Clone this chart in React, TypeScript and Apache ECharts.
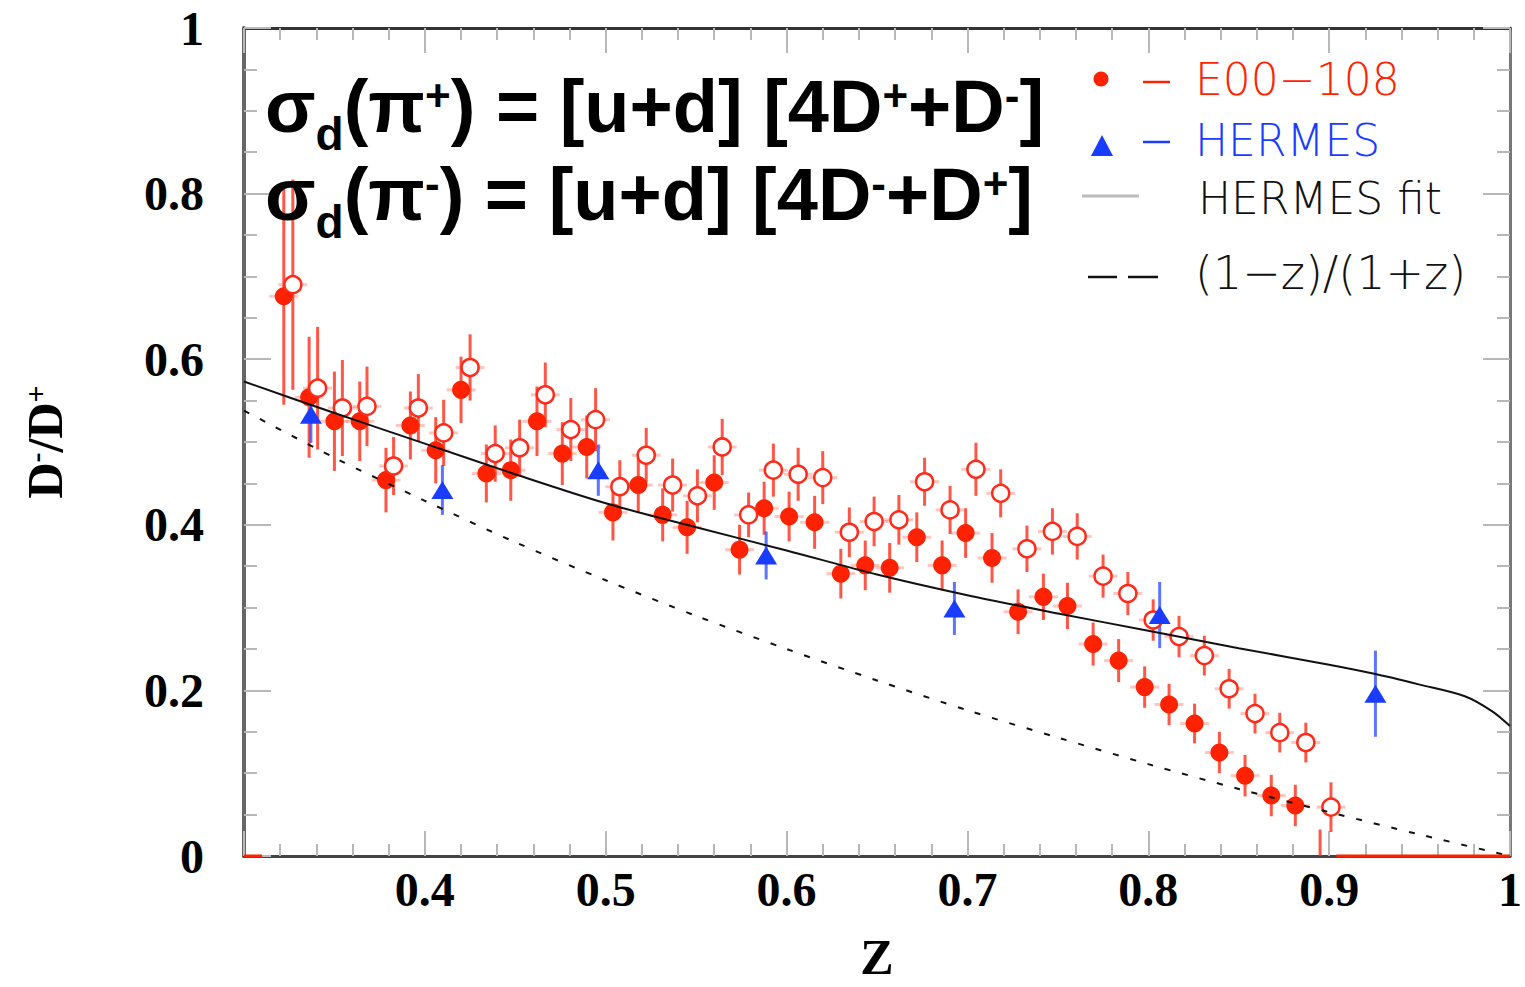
import React, { useEffect, useRef } from "react";
import * as echarts from "echarts";

// E00-108 filled circles: [z, value, error]
const e00Filled: number[][] = [
  [0.322, 0.676, 0.131], [0.336, 0.554, 0.073], [0.350, 0.525, 0.060], [0.364, 0.525, 0.048],
  [0.3785, 0.454, 0.039], [0.392, 0.520, 0.041], [0.406, 0.490, 0.040], [0.420, 0.563, 0.040],
  [0.434, 0.462, 0.035], [0.4475, 0.466, 0.037], [0.462, 0.525, 0.042], [0.476, 0.486, 0.038],
  [0.4895, 0.494, 0.038], [0.504, 0.415, 0.034], [0.518, 0.448, 0.034], [0.5315, 0.412, 0.032],
  [0.545, 0.397, 0.032], [0.560, 0.451, 0.033], [0.574, 0.370, 0.030], [0.5876, 0.420, 0.032],
  [0.6014, 0.410, 0.030], [0.6155, 0.403, 0.032], [0.630, 0.341, 0.030], [0.6435, 0.351, 0.030],
  [0.657, 0.348, 0.030], [0.672, 0.385, 0.030], [0.686, 0.351, 0.030], [0.699, 0.390, 0.030],
  [0.7136, 0.360, 0.030], [0.728, 0.295, 0.027], [0.742, 0.313, 0.028], [0.7553, 0.302, 0.028],
  [0.7695, 0.256, 0.026], [0.7836, 0.236, 0.026], [0.798, 0.204, 0.025], [0.8115, 0.183, 0.025],
  [0.8256, 0.160, 0.024], [0.8393, 0.125, 0.025], [0.8535, 0.097, 0.025], [0.868, 0.073, 0.025],
  [0.8813, 0.061, 0.025], [0.895, -0.012, 0.044],
];

// E00-108 open circles: [z, value, error]
const e00Open: number[][] = [
  [0.327, 0.690, 0.127], [0.3407, 0.565, 0.074], [0.3544, 0.541, 0.058], [0.368, 0.543, 0.048],
  [0.3827, 0.471, 0.035], [0.3964, 0.541, 0.041], [0.4104, 0.511, 0.040], [0.425, 0.590, 0.040],
  [0.4389, 0.486, 0.034], [0.4524, 0.493, 0.034], [0.4666, 0.557, 0.039], [0.4807, 0.515, 0.038],
  [0.4944, 0.527, 0.038], [0.5078, 0.446, 0.032], [0.5224, 0.484, 0.033], [0.537, 0.448, 0.032],
  [0.5507, 0.435, 0.032], [0.5644, 0.494, 0.034], [0.579, 0.412, 0.027], [0.5927, 0.466, 0.032],
  [0.6064, 0.461, 0.032], [0.620, 0.457, 0.032], [0.6347, 0.391, 0.030], [0.6484, 0.404, 0.030],
  [0.6621, 0.406, 0.030], [0.6763, 0.452, 0.029], [0.6904, 0.418, 0.029], [0.7047, 0.467, 0.032],
  [0.7184, 0.438, 0.029], [0.7329, 0.371, 0.028], [0.747, 0.392, 0.028], [0.7607, 0.386, 0.028],
  [0.775, 0.338, 0.026], [0.7887, 0.317, 0.026], [0.8027, 0.285, 0.025], [0.817, 0.265, 0.025],
  [0.831, 0.242, 0.024], [0.8447, 0.202, 0.024], [0.859, 0.172, 0.024], [0.8727, 0.149, 0.024],
  [0.8871, 0.137, 0.024], [0.901, 0.059, 0.030],
];

// HERMES triangles: [z, value, error]
const hermes: number[][] = [
  [0.337, 0.533, 0.034], [0.4097, 0.442, 0.030], [0.4959, 0.466, 0.031], [0.5887, 0.363, 0.029],
  [0.6928, 0.299, 0.032], [0.8063, 0.291, 0.040], [0.9256, 0.196, 0.052],
];

// HERMES fit curve
const hermesFit: number[][] = [
  [0.30, 0.573], [0.35, 0.535], [0.40, 0.498], [0.45, 0.461], [0.50, 0.426], [0.55, 0.397],
  [0.60, 0.369], [0.65, 0.340], [0.70, 0.315], [0.75, 0.293], [0.80, 0.272], [0.85, 0.251],
  [0.90, 0.231], [0.925, 0.220], [0.95, 0.207], [0.975, 0.193], [0.99, 0.175], [1.0, 0.157],
];

// (1-z)/(1+z) dashed curve
const ratioCurve: number[][] = [
  [0.30, 0.538], [0.35, 0.481], [0.40, 0.429], [0.45, 0.379], [0.50, 0.333], [0.55, 0.290],
  [0.60, 0.250], [0.65, 0.212], [0.70, 0.176], [0.75, 0.143], [0.80, 0.111], [0.85, 0.081],
  [0.90, 0.053], [0.95, 0.026], [1.0, 0.0],
];

// red segments lying on the zero line
const zeroSegLeft: number[][] = [[0.3, 0], [0.31, 0]];
const zeroSegRight: number[][] = [[0.904, 0], [1.0, 0]];

const xTickLabels: string[] = ["", "0.4", "0.5", "0.6", "0.7", "0.8", "0.9", "1"];
const yTickLabels: string[] = ["0", "0.2", "0.4", "0.6", "0.8", "1"];

const legendNames = ["E00\u2212108", "HERMES", "HERMES fit", "(1\u2212z)/(1+z)"];

const RED = "#ff2200";
const BLUE = "#1a3cff";

const makeErr = (stroke: string, hw: number, hstroke: string) => (params: any, api: any) => {
  const z = api.value(0);
  const v = api.value(1);
  const e = api.value(2);
  const top = api.coord([z, Math.min(v + e, 1)]);
  const bot = api.coord([z, Math.max(v - e, 0)]);
  const children: any[] = [
    { type: "line", shape: { x1: top[0], y1: top[1], x2: bot[0], y2: bot[1] }, style: { stroke, lineWidth: 3 } },
  ];
  if (hw > 0 && v >= 0) {
    const l = api.coord([z - hw, v]);
    const r = api.coord([z + hw, v]);
    children.push({ type: "line", shape: { x1: l[0], y1: l[1], x2: r[0], y2: r[1] }, style: { stroke: hstroke, lineWidth: 3 } });
  }
  return { type: "group", children };
};

const mainFont = "'Liberation Sans', Arial, sans-serif";
const richFormula = {
  m: { fontSize: 74, fontWeight: "bold", fontFamily: mainFont, fill: "#000", lineHeight: 80, verticalAlign: "top", padding: [0, 0, 0, 0] },
  s: { fontSize: 46, fontWeight: "bold", fontFamily: mainFont, fill: "#000", lineHeight: 10, verticalAlign: "top", padding: [42, 0, 0, 0] },
  p: { fontSize: 44, fontWeight: "bold", fontFamily: mainFont, fill: "#000", lineHeight: 10, verticalAlign: "top", padding: [4, 0, 0, 0] },
};

export default function App() {
  const ref = useRef<HTMLDivElement>(null);
  useEffect(() => {
    if (!ref.current) return;
    const chart = echarts.init(ref.current, undefined, { renderer: "svg", width: 1525, height: 987 });
    const serif = "'Liberation Serif', 'Times New Roman', serif";
    const legendFont = "'DejaVu Sans', sans-serif";
    const tickGray = "#b8b8b8";
    const option: any = {
      animation: false,
      backgroundColor: "#ffffff",
      grid: { left: 244, right: 5, top: 28, bottom: 119, containLabel: false },
      xAxis: [
        {
          type: "value", min: 0.3, max: 1.0, interval: 0.1,
          name: "Z", nameLocation: "middle", nameGap: 76,
          nameTextStyle: { fontFamily: serif, fontWeight: "bold", fontSize: 50, color: "#000" },
          axisLine: { show: true, onZero: false, lineStyle: { color: "#444", width: 3 } },
          axisTick: { show: true, inside: true, length: 25, lineStyle: { color: tickGray, width: 2 } },
          minorTick: { show: true, splitNumber: 5, length: 12, lineStyle: { color: tickGray, width: 2 } },
          axisLabel: {
            margin: 9, fontFamily: serif, fontWeight: "bold", fontSize: 48, color: "#000",
            formatter: (v: number) => xTickLabels[Math.round((v - 0.3) * 10)] ?? "",
          },
          splitLine: { show: false },
        },
        {
          type: "value", min: 0.3, max: 1.0, interval: 0.1, position: "top",
          axisLine: { show: true, onZero: false, lineStyle: { color: "#333", width: 3 } },
          axisTick: { show: true, inside: true, length: 25, lineStyle: { color: tickGray, width: 2 } },
          minorTick: { show: true, splitNumber: 5, length: 12, lineStyle: { color: tickGray, width: 2 } },
          axisLabel: { show: false },
          splitLine: { show: false },
        },
      ],
      yAxis: [
        {
          type: "value", min: 0, max: 1, interval: 0.2,
          name: "D{sup|-}/D{sup|+}", nameLocation: "middle", nameGap: 174, nameRotate: 90,
          nameTextStyle: {
            fontFamily: serif, fontWeight: "bold", fontSize: 50, color: "#000",
            rich: { sup: { fontFamily: serif, fontWeight: "bold", fontSize: 30, color: "#000", verticalAlign: "top", padding: [0, 0, 0, 0] } },
          },
          axisLine: { show: true, onZero: false, lineStyle: { color: "#666", width: 4 } },
          axisTick: { show: true, inside: true, length: 27, lineStyle: { color: tickGray, width: 2 } },
          minorTick: { show: true, splitNumber: 4, length: 13, lineStyle: { color: tickGray, width: 2 } },
          axisLabel: {
            margin: 40, fontFamily: serif, fontWeight: "bold", fontSize: 48, color: "#000",
            formatter: (v: number) => yTickLabels[Math.round(v * 5)] ?? "",
          },
          splitLine: { show: false },
        },
        {
          type: "value", min: 0, max: 1, interval: 0.2, position: "right",
          axisLine: { show: true, onZero: false, lineStyle: { color: "#777", width: 3 } },
          axisTick: { show: true, inside: true, length: 27, lineStyle: { color: tickGray, width: 2 } },
          minorTick: { show: true, splitNumber: 4, length: 13, lineStyle: { color: tickGray, width: 2 } },
          axisLabel: { show: false },
          splitLine: { show: false },
        },
      ],
      series: [
        { type: "custom", name: "errFilled", data: e00Filled, encode: { x: 0, y: 1 }, renderItem: makeErr("rgba(255,45,25,0.8)", 0.008, "rgba(255,90,70,0.35)"), z: 2, silent: true },
        { type: "custom", name: "errOpen", data: e00Open, encode: { x: 0, y: 1 }, renderItem: makeErr("rgba(255,45,25,0.8)", 0.008, "rgba(255,90,70,0.35)"), z: 2, silent: true },
        { type: "custom", name: "errHermes", data: hermes, encode: { x: 0, y: 1 }, renderItem: makeErr("rgba(40,70,255,0.75)", 0, ""), z: 2, silent: true },
        {
          type: "scatter", name: legendNames[0], data: e00Filled.map((d) => [d[0], d[1]]),
          symbol: "circle", symbolSize: 18, itemStyle: { color: RED, opacity: 1 }, z: 3, clip: true,
        },
        {
          type: "scatter", name: legendNames[0] + " open", data: e00Open.map((d) => [d[0], d[1]]),
          symbol: "circle", symbolSize: 17, itemStyle: { color: "#ffffff", borderColor: "#ff2a1a", borderWidth: 2.5, opacity: 1 }, z: 3, clip: true,
        },
        {
          type: "scatter", name: legendNames[1], data: hermes.map((d) => [d[0], d[1]]),
          symbol: "triangle", symbolSize: [22, 18], itemStyle: { color: BLUE, opacity: 1 }, z: 3,
        },
        {
          type: "line", name: legendNames[2], data: hermesFit, smooth: 0.3, showSymbol: false,
          lineStyle: { color: "#111", width: 2 }, z: 4,
        },
        {
          type: "line", name: legendNames[3], data: ratioCurve, smooth: 0.3, showSymbol: false,
          lineStyle: { color: "#111", width: 2, type: [6, 12] }, z: 4,
        },
        { type: "line", name: "zeroL", data: zeroSegLeft, showSymbol: false, clip: false, lineStyle: { color: RED, width: 3 }, z: 5 },
        { type: "line", name: "zeroR", data: zeroSegRight, showSymbol: false, clip: false, lineStyle: { color: RED, width: 3 }, z: 5 },
      ],
      graphic: [
        // formula text
        {
          type: "text", x: 265, y: 69, z: 10,
          style: {
            text: "{m|\u03c3}{s|d}{m|(\u03c0}{p|+}{m|) = [u+d] [4D}{p|+}{m|+D}{p|-}{m|]}",
            rich: richFormula, verticalAlign: "top", align: "left",
          },
        },
        {
          type: "text", x: 265, y: 157, z: 10,
          style: {
            text: "{m|\u03c3}{s|d}{m|(\u03c0}{p|-}{m|) = [u+d] [4D}{p|-}{m|+D}{p|+}{m|]}",
            rich: richFormula, verticalAlign: "top", align: "left",
          },
        },
        // legend
        { type: "circle", shape: { cx: 1101, cy: 79, r: 7.5 }, style: { fill: RED }, z: 10 },
        { type: "line", shape: { x1: 1143, y1: 82, x2: 1170, y2: 82 }, style: { stroke: RED, lineWidth: 2.5 }, z: 10 },
        { type: "text", x: 1195, y: 79, z: 10, style: { text: legendNames[0], fill: RED, fontSize: 44, fontWeight: 300, fontFamily: legendFont, verticalAlign: "middle", align: "left" } },
        { type: "polygon", shape: { points: [[1091, 156], [1102, 135], [1113, 156]] }, style: { fill: BLUE }, z: 10 },
        { type: "line", shape: { x1: 1143, y1: 142, x2: 1170, y2: 142 }, style: { stroke: BLUE, lineWidth: 2.5 }, z: 10 },
        { type: "text", x: 1195, y: 140, z: 10, style: { text: legendNames[1], fill: BLUE, fontSize: 44, fontWeight: 300, fontFamily: legendFont, verticalAlign: "middle", align: "left" } },
        { type: "line", shape: { x1: 1082, y1: 196, x2: 1139, y2: 196 }, style: { stroke: "#bbbbbb", lineWidth: 3 }, z: 10 },
        { type: "text", x: 1198, y: 198, z: 10, style: { text: legendNames[2], fill: "#111", fontSize: 44, fontWeight: 300, fontFamily: legendFont, verticalAlign: "middle", align: "left" } },
        { type: "line", shape: { x1: 1088, y1: 277, x2: 1117, y2: 277 }, style: { stroke: "#111", lineWidth: 2.5 }, z: 10 },
        { type: "line", shape: { x1: 1128, y1: 277, x2: 1158, y2: 277 }, style: { stroke: "#111", lineWidth: 2.5 }, z: 10 },
        { type: "text", x: 1195, y: 273, z: 10, style: { text: legendNames[3], fill: "#111", fontSize: 46, fontWeight: 300, fontFamily: legendFont, verticalAlign: "middle", align: "left" } },
      ],
    };
    chart.setOption(option);
    return () => chart.dispose();
  }, []);
  return (
    <div
      ref={ref}
      style={{ position: "fixed", left: 0, top: 0, width: 1525, height: 987, background: "#ffffff" }}
    />
  );
}
